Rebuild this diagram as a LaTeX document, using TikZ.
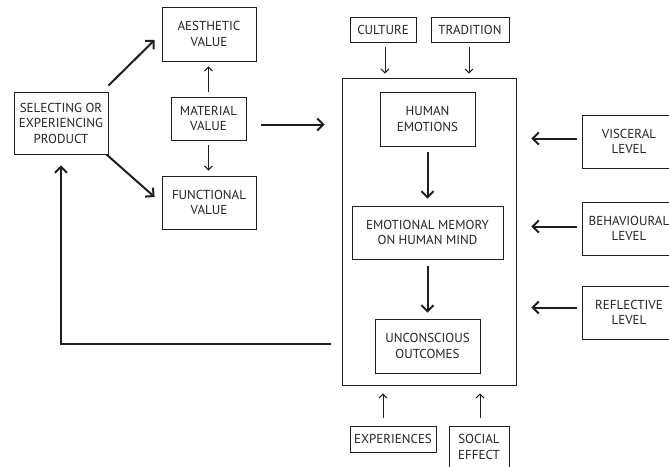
\documentclass[tikz,border=0pt]{standalone}
\usepackage{fontspec}
\setmainfont{PT Sans}
\usepackage{tikz}
\usetikzlibrary{arrows.meta,calc}
\definecolor{corlinha}{RGB}{30,30,30}
\definecolor{cortexto}{RGB}{35,35,35}

\begin{document}
\begin{tikzpicture}[x=1pt,y=-1pt,
  caixa/.style={draw=corlinha, line width=0.8pt, inner sep=0pt, align=center,
    text=cortexto, font=\fontsize{13}{15.5}\selectfont},
  seta/.style={draw=corlinha, line width=1pt, -{Straight Barb[length=4pt,width=8pt]}},
  setagrossa/.style={draw=corlinha, line width=2pt, -{Straight Barb[length=6pt,width=12pt]}}]
  \useasboundingbox (0,0) rectangle (669,466);

  \node [caixa, minimum width=94, minimum height=62] (sel) at (61,123) {SELECTING OR\\EXPERIENCING\\PRODUCT};
  \node [caixa, minimum width=94, minimum height=54] (aes) at (209,34) {AESTHETIC\\VALUE};
  \node [caixa, minimum width=75, minimum height=43] (mat) at (208.5,118.5) {MATERIAL\\VALUE};
  \node [caixa, minimum width=94, minimum height=53] (fun) at (209,202.5) {FUNCTIONAL\\VALUE};

  \node [caixa, minimum width=66, minimum height=25] (cul) at (383,29.5) {CULTURE};
  \node [caixa, minimum width=78, minimum height=25] (tra) at (470,29.5) {TRADITION};
  \node [caixa, minimum width=174, minimum height=307] (mente) at (429,231.5) {};
  \node [caixa, minimum width=95, minimum height=54] (hum) at (427.5,119) {HUMAN\\EMOTIONS};
  \node [caixa, minimum width=151, minimum height=53] (mem) at (427.5,232.5) {EMOTIONAL MEMORY\\ON HUMAN MIND};
  \node [caixa, minimum width=105, minimum height=54] (unc) at (427.5,346) {UNCONSCIOUS\\OUTCOMES};
  \node [caixa, minimum width=86, minimum height=26] (exp) at (393,439) {EXPERIENCES};
  \node [caixa, minimum width=60, minimum height=42] (soc) at (479,447) {SOCIAL\\EFFECT};

  \node [caixa, minimum width=94, minimum height=53] (vis) at (629,141.5) {VISCERAL\\LEVEL};
  \node [caixa, minimum width=94, minimum height=53] (beh) at (629,228.5) {BEHAVIOURAL\\LEVEL};
  \node [caixa, minimum width=94, minimum height=53] (ref) at (629,312.5) {REFLECTIVE\\LEVEL};

  \coordinate (e1) at ($(exp.north)+(-10,0)$);
  \coordinate (s1) at ($(soc.north)+(1,0)$);

  \draw [setagrossa] ($(sel.north east)+(0,-6)$) -- ($(aes.west)+(-7,6)$);
  \draw [setagrossa] ($(sel.south east)+(-2,0)$) -- ($(fun.west)+(-7,-5.5)$);
  \draw [seta, shorten <=5pt, shorten >=5pt] (mat.north) -- (mat.north |- aes.south);
  \draw [seta, shorten <=5pt, shorten >=5pt] (mat.south) -- (mat.south |- fun.north);
  \draw [setagrossa] ($(mat.east)+(15,6)$) -- ($(mente.west |- mat.east)+(-17,6)$);

  \draw [seta, shorten <=5pt, shorten >=4pt] ($(cul.south)+(2,0)$) -- ($(cul.south |- mente.north)+(2,0)$);
  \draw [seta, shorten <=5pt, shorten >=4pt] ($(tra.south)+(-1,0)$) -- ($(tra.south |- mente.north)+(-1,0)$);
  \draw [setagrossa, shorten <=6pt, shorten >=7pt] (hum.south) -- (mem.north);
  \draw [setagrossa, shorten <=7pt, shorten >=6pt] (mem.south) -- (unc.north);

  \draw [setagrossa, shorten <=5pt, shorten >=15pt] ($(vis.west)+(0,-3)$) -- ($(vis.west -| mente.east)+(0,-3)$);
  \draw [setagrossa, shorten <=5pt, shorten >=15pt] ($(beh.west)+(0,-2)$) -- ($(beh.west -| mente.east)+(0,-2)$);
  \draw [setagrossa, shorten <=5pt, shorten >=15pt] ($(ref.west)+(0,-5)$) -- ($(ref.west -| mente.east)+(0,-5)$);

  \draw [seta, shorten <=8pt, shorten >=8pt] (e1) -- (e1 |- mente.south);
  \draw [seta, shorten <=8pt, shorten >=8pt] (s1) -- (s1 |- mente.south);

  \draw [setagrossa, shorten <=11pt, shorten >=11pt] ($(unc.west -| mente.west)+(0,-2)$) -| (sel.south);
\end{tikzpicture}
\end{document}
